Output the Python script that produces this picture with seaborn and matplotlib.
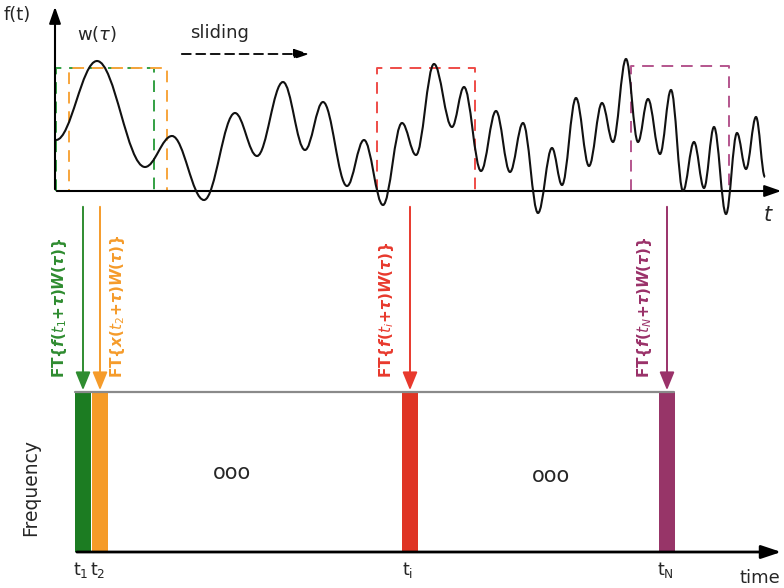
import numpy as np
import matplotlib
matplotlib.use("Agg")
import matplotlib.pyplot as plt
import seaborn as sns
from matplotlib.path import Path
from matplotlib.patches import PathPatch

# ---- data (time and amplitude in pixels from the origin) ----
sig_t = [1, 42, 90, 117, 149, 180, 202, 228, 250, 268, 292, 309, 328, 347, 361, 379,
         397, 409, 426, 441, 455, 468, 483, 497, 507, 521, 534, 547, 558, 571, 583,
         593, 605, 616, 628, 639, 649, 659, 671, 682, 691, 701, 710]
sig_f = [51, 130, 24, 55, -9, 78, 35, 109, 41, 89, 5, 51, -14, 68, 36, 127,
         64, 104, 20, 80, 19, 68, -22, 43, 6, 93, 25, 88, 49, 132, 49,
         92, 37, 101, 0, 49, 3, 64, -23, 58, 22, 74, 14]

win_start = [1, 14, 322, 576]          # sliding window start times
win_colors = ["#33a043", "#f7a53c", "#ee4c48", "#b4558d"]
win_width = 98
win_height = [123, 123, 123, 125]

frame_t = [83, 100, 410, 667]          # spectrogram frame times
frame_colors = ["#1c7c22", "#f59b28", "#df3424", "#973568"]
arrow_colors = ["#2f8c30", "#f59b2a", "#e8392d", "#9a3169"]
frame_ticks = [r"$\mathrm{t}_1$", r"$\mathrm{t}_2$", r"$\mathrm{t}_\mathrm{i}$", r"$\mathrm{t}_\mathrm{N}$"]
ft_labels = [r"$\mathbf{FT\{}\boldsymbol{f(t_1\!+\!\tau)W(\tau)}\mathbf{\}}$",
             r"$\mathbf{FT\{}\boldsymbol{x(t_2\!+\!\tau)W(\tau)}\mathbf{\}}$",
             r"$\mathbf{FT\{}\boldsymbol{f(t_i\!+\!\tau)W(\tau)}\mathbf{\}}$",
             r"$\mathbf{FT\{}\boldsymbol{f(t_N\!+\!\tau)W(\tau)}\mathbf{\}}$"]
ft_label_x = [60, 118, 387, 645]

sns.set_style("white")
plt.rcParams["font.family"] = ["DejaVu Sans"]
plt.rcParams["mathtext.fontset"] = "dejavusans"

fig = plt.figure(figsize=(7.84, 5.88), dpi=100)
ax = fig.add_axes([0, 0, 1, 1])
ax.set_xlim(0, 784)
ax.set_ylim(588, 0)
ax.axis("off")

X0, Y0 = 55, 191  # origin of the signal panel

# ---- signal axes ----
ax.annotate("", xy=(X0, 4), xytext=(X0, Y0 + 1),
            arrowprops=dict(arrowstyle="-|>,head_width=0.35,head_length=1.0", color="black", lw=1.5))
ax.annotate("", xy=(784, Y0), xytext=(X0 - 1, Y0),
            arrowprops=dict(arrowstyle="-|>,head_width=0.35,head_length=1.0", color="black", lw=1.5))
ax.text(4, 15, "f(t)", fontsize=13, va="center", ha="left")
ax.text(768, 215, "t", fontsize=15, style="italic", va="center", ha="center")
ax.text(97, 34, r"w($\tau$)", fontsize=13, va="center", ha="center")
ax.text(220, 33, "sliding", fontsize=13, va="center", ha="center")
ax.annotate("", xy=(312, 54), xytext=(179, 54),
            arrowprops=dict(arrowstyle="-|>,head_width=0.3,head_length=0.9", color="black",
                            lw=1.3, linestyle=(0, (5, 3))))

# ---- sliding windows ----
for s, c, h, off in zip(win_start, win_colors, win_height, [0, 5, 0, 0]):
    xs = [X0 + s, X0 + s, X0 + s + win_width, X0 + s + win_width]
    ys = [Y0, Y0 - h, Y0 - h, Y0]
    sns.lineplot(x=xs, y=ys, sort=False, estimator=None, errorbar=None, color=c, lw=1.4,
                 ax=ax, linestyle=(off, (6, 4)))

# ---- signal (smooth curve through the read extrema) ----
px = [X0 + t for t in sig_t]
py = [Y0 - f for f in sig_f]
verts = [(px[0], py[0])]
codes = [Path.MOVETO]
for i in range(1, len(px)):
    dx = px[i] - px[i - 1]
    verts += [(px[i - 1] + 0.37 * dx, py[i - 1]), (px[i] - 0.37 * dx, py[i]), (px[i], py[i])]
    codes += [Path.CURVE4] * 3
ax.add_patch(PathPatch(Path(verts, codes), fill=False, lw=1.5, ec="#111111", zorder=3))

# ---- arrows and FT labels ----
for x, c, lab, lx in zip(frame_t, arrow_colors, ft_labels, ft_label_x):
    ax.annotate("", xy=(x, 393), xytext=(x, 204),
                arrowprops=dict(arrowstyle="-|>,head_width=0.45,head_length=1.1", color=c, lw=1.4))
    ax.text(lx, 378, lab, rotation=90, color=c, fontsize=11, ha="center", va="bottom")

# ---- time-frequency panel ----
bar_w = 16
ax.plot([75, 674], [392, 392], color="#8a8a8a", lw=1.6)
for x, c in zip(frame_t, frame_colors):
    ax.fill_between([x - bar_w / 2, x + bar_w / 2], 392, 552, color=c, lw=0)
ax.annotate("", xy=(784, 552), xytext=(74, 552),
            arrowprops=dict(arrowstyle="-|>,head_width=0.4,head_length=1.2", color="black", lw=2))
for x, lab in zip(frame_t, frame_ticks):
    ax.text(x - 2, 570, lab, fontsize=12.5, ha="center", va="center")
ax.text(760, 578, "time", fontsize=13, ha="center", va="center")
ax.text(31, 487, "Frequency", rotation=90, fontsize=13.5, ha="center", va="center")
ax.text(232, 473, "ooo", fontsize=15, ha="center", va="center")
ax.text(551, 476, "ooo", fontsize=15, ha="center", va="center")

fig.savefig("out.png", dpi=100)
